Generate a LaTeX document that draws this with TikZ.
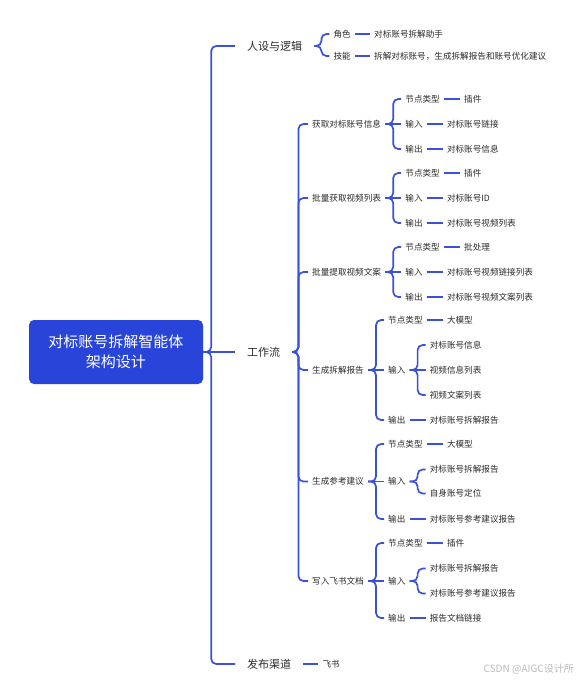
\documentclass[tikz,border=0pt]{standalone}
\usepackage{fontspec}
\setmainfont{Noto Sans CJK SC}
\usetikzlibrary{positioning}
\definecolor{lineblue}{HTML}{3A52D8}
\definecolor{boxblue}{HTML}{2944D8}
\definecolor{txt}{HTML}{2B2B2B}
\definecolor{wmgray}{HTML}{BBBBBB}
\begin{document}
\begin{tikzpicture}[x=1pt,y=-1pt,
  every node/.style={inner ysep=2pt, inner xsep=4pt, text=txt},
  rootbox/.style={fill=boxblue, text=white, rounded corners=5pt, minimum width=174pt,
    minimum height=64pt, align=center, inner sep=0pt, font=\fontsize{15}{20}\selectfont},
  lvone/.style={font=\fontsize{11}{13}\selectfont, inner xsep=12pt, anchor=west},
  lvtwo/.style={font=\fontsize{8.6}{10}\selectfont},
  conn/.style={draw=lineblue, line width=1.7pt, rounded corners=5pt},
  wmark/.style={text=wmgray, font=\fontsize{10}{12}\selectfont, anchor=east}
]
\useasboundingbox[fill=white] (0,0) rectangle (580,681);

% root and level one
\node[rootbox] (root) at (116,352) {对标账号拆解智能体\\架构设计};
\node[lvone] (ps) at (235,46) {人设与逻辑};
\node[lvone] (wf) at (235,352) {工作流};
\node[lvone] (fb) at (235,664) {发布渠道};

% persona
\node[lvtwo, right=15pt of ps, yshift=12pt] (js) {角色};
\node[lvtwo, right=15pt of ps, yshift=-10pt] (jn) {技能};
\node[lvtwo, right=15pt of js] (jsv) {对标账号拆解助手};
\node[lvtwo, right=15pt of jn] (jnv) {拆解对标账号，生成拆解报告和账号优化建议};

% publish
\node[lvtwo, right=15pt of fb] (fs) {飞书};

% workflow level two
\node[lvtwo, anchor=west] (A) at (308,124) {获取对标账号信息};
\node[lvtwo, anchor=west] (B) at (308,198) {批量获取视频列表};
\node[lvtwo, anchor=west] (C) at (308,272) {批量提取视频文案};
\node[lvtwo, anchor=west] (D) at (308,370) {生成拆解报告};
\node[lvtwo, anchor=west] (E) at (308,481.5) {生成参考建议};
\node[lvtwo, anchor=west] (F) at (308,581) {写入飞书文档};

% A
\node[lvtwo, right=16pt of A, yshift=25pt] (A1) {节点类型};
\node[lvtwo, right=16pt of A] (A2) {输入};
\node[lvtwo, right=16pt of A, yshift=-25pt] (A3) {输出};
\node[lvtwo, right=16pt of A1] (A1v) {插件};
\node[lvtwo, right=16pt of A2] (A2v) {对标账号链接};
\node[lvtwo, right=16pt of A3] (A3v) {对标账号信息};
% B
\node[lvtwo, right=16pt of B, yshift=25pt] (B1) {节点类型};
\node[lvtwo, right=16pt of B] (B2) {输入};
\node[lvtwo, right=16pt of B, yshift=-25pt] (B3) {输出};
\node[lvtwo, right=16pt of B1] (B1v) {插件};
\node[lvtwo, right=16pt of B2] (B2v) {对标账号ID};
\node[lvtwo, right=16pt of B3] (B3v) {对标账号视频列表};
% C
\node[lvtwo, right=16pt of C, yshift=25pt] (C1) {节点类型};
\node[lvtwo, right=16pt of C] (C2) {输入};
\node[lvtwo, right=16pt of C, yshift=-25pt] (C3) {输出};
\node[lvtwo, right=16pt of C1] (C1v) {批处理};
\node[lvtwo, right=16pt of C2] (C2v) {对标账号视频链接列表};
\node[lvtwo, right=16pt of C3] (C3v) {对标账号视频文案列表};
% D
\node[lvtwo, right=16pt of D, yshift=50pt] (D1) {节点类型};
\node[lvtwo, right=16pt of D] (D2) {输入};
\node[lvtwo, right=16pt of D, yshift=-50pt] (D3) {输出};
\node[lvtwo, right=16pt of D1] (D1v) {大模型};
\node[lvtwo, right=16pt of D2, yshift=25pt] (D21) {对标账号信息};
\node[lvtwo, right=16pt of D2] (D22) {视频信息列表};
\node[lvtwo, right=16pt of D2, yshift=-25pt] (D23) {视频文案列表};
\node[lvtwo, right=16pt of D3] (D3v) {对标账号拆解报告};
% E
\node[lvtwo, right=16pt of E, yshift=37.5pt] (E1) {节点类型};
\node[lvtwo, right=16pt of E] (E2) {输入};
\node[lvtwo, right=16pt of E, yshift=-37.5pt] (E3) {输出};
\node[lvtwo, right=16pt of E1] (E1v) {大模型};
\node[lvtwo, right=16pt of E2, yshift=12pt] (E21) {对标账号拆解报告};
\node[lvtwo, right=16pt of E2, yshift=-12pt] (E22) {自身账号定位};
\node[lvtwo, right=16pt of E3] (E3v) {对标账号参考建议报告};
% F
\node[lvtwo, right=16pt of F, yshift=38pt] (F1) {节点类型};
\node[lvtwo, right=16pt of F] (F2) {输入};
\node[lvtwo, right=16pt of F, yshift=-37pt] (F3) {输出};
\node[lvtwo, right=16pt of F1] (F1v) {插件};
\node[lvtwo, right=16pt of F2, yshift=12.5pt] (F21) {对标账号拆解报告};
\node[lvtwo, right=16pt of F2, yshift=-12.5pt] (F22) {对标账号参考建议报告};
\node[lvtwo, right=16pt of F3] (F3v) {报告文档链接};

\node[wmark] (wm) at (578,669) {CSDN @AIGC设计所};

% connectors: main bus
\draw[conn] (root.east) -- (wf.west);
\draw[conn] (root.east) -- ++(8,0) |- (ps.west);
\draw[conn] (root.east) -- ++(8,0) |- (fb.west);
% persona
\draw[conn] (ps.east) -- ++(7,0) |- (js.west);
\draw[conn] (ps.east) -- ++(7,0) |- (jn.west);
\draw[conn] (js) -- (jsv);
\draw[conn] (jn) -- (jnv);
% publish
\draw[conn] (fb) -- (fs);
% workflow bus
\foreach \n in {A,B,C,D,E,F}{
  \draw[conn] (wf.east) -- ++(6,0) |- (\n.west);
}
% three-child groups
\foreach \n in {A,B,C,D,E,F}{
  \draw[conn] (\n.east) -- ++(8,0) |- (\n1.west);
  \draw[conn] (\n.east) -- ++(8,0) |- (\n3.west);
  \draw[conn] (\n) -- (\n2);
  \draw[conn] (\n1) -- (\n1v);
  \draw[conn] (\n3) -- (\n3v);
}
\foreach \n in {A,B,C}{
  \draw[conn] (\n2) -- (\n2v);
}
% sub-inputs
\draw[conn] (D2.east) -- ++(8,0) |- (D21.west);
\draw[conn] (D2.east) -- ++(8,0) |- (D23.west);
\draw[conn] (D2) -- (D22);
\draw[conn] (E2.east) -- ++(8,0) |- (E21.west);
\draw[conn] (E2.east) -- ++(8,0) |- (E22.west);
\draw[conn] (F2.east) -- ++(8,0) |- (F21.west);
\draw[conn] (F2.east) -- ++(8,0) |- (F22.west);
\end{tikzpicture}
\end{document}
